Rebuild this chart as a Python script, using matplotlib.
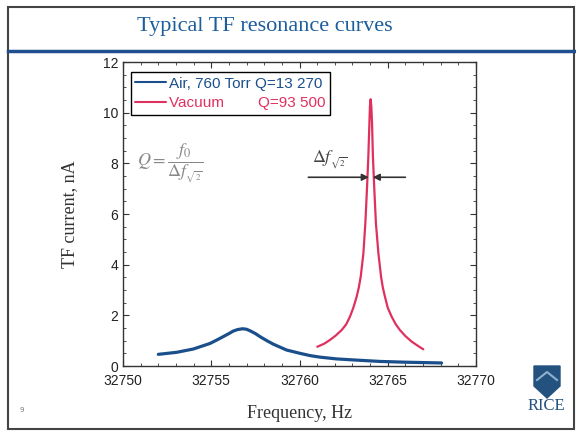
import matplotlib
matplotlib.use("Agg")
import matplotlib.pyplot as plt
from matplotlib.patches import Polygon, Rectangle
from matplotlib.lines import Line2D
from matplotlib.ticker import MultipleLocator

# air curve
air_f = [32752.0, 32753.04, 32753.98, 32754.93, 32755.3, 32755.68, 32756.0, 32756.25, 32756.5,
         32756.78, 32757.0, 32757.2, 32757.5, 32757.76, 32758.15, 32758.52, 32759.27, 32760.03,
         32760.6, 32761.16, 32762.1, 32763.05, 32764.56, 32766.0, 32768.05]
air_i = [0.46, 0.54, 0.67, 0.89, 1.02, 1.16, 1.28, 1.38, 1.44,
         1.47, 1.45, 1.39, 1.28, 1.16, 1.00, 0.86, 0.63, 0.50,
         0.41, 0.35, 0.28, 0.24, 0.18, 0.15, 0.12]

# vacuum curve
vac_f = [32761.01, 32761.4, 32761.73, 32762.05, 32762.39, 32762.65, 32762.86, 32763.05,
         32763.24, 32763.36, 32763.47, 32763.62, 32763.73, 32763.82, 32763.90, 32763.96,
         32763.99, 32764.03, 32764.07, 32764.11, 32764.16, 32764.24, 32764.33, 32764.47,
         32764.62, 32764.72, 32764.84, 32765.0, 32765.22, 32765.45, 32765.69, 32766.0,
         32766.36, 32766.7, 32767.01]
vac_i = [0.76, 0.88, 1.03, 1.20, 1.42, 1.65, 1.95, 2.30,
         2.74, 3.10, 3.53, 4.45, 5.63, 6.95, 8.26, 9.58,
         10.24, 10.53, 10.24, 9.58, 8.26, 6.95, 5.63, 4.45,
         3.53, 3.10, 2.74, 2.30, 1.95, 1.65, 1.42, 1.18,
         0.96, 0.80, 0.66]

air_label = "Air, 760 Torr Q=13 270"
vac_label = "Vacuum        Q=93 500"

blue = "#1b4f8c"
red = "#e0305e"

plt.rcParams["mathtext.fontset"] = "stix"

fig = plt.figure(figsize=(5.76, 4.33), dpi=100)

# slide frame
W, H = 576.0, 433.0
def fx(px):
    return px / W
def fy(py):
    return 1 - py / H

fig.add_artist(Rectangle((fx(8), fy(429)), fx(574) - fx(8), fy(7) - fy(429),
                         transform=fig.transFigure, fill=False, edgecolor="#444444", lw=1.5))
fig.add_artist(Line2D([fx(8), fx(576)], [fy(51), fy(51)], transform=fig.transFigure,
                      color="#1f4f8f", lw=2.5))
fig.text(0.46, fy(26), "Typical TF resonance curves", ha="center", va="center",
         fontsize=16, color="#1c5d9c", family="Liberation Serif")
fig.text(fx(22), fy(410), "9", fontsize=5, color="#777777", ha="center", va="center")

# RICE logo
shield = [(fx(534), fy(366)), (fx(560), fy(366)), (fx(560), fy(386)), (fx(547), fy(398)),
          (fx(534), fy(386))]
fig.add_artist(Polygon(shield, closed=True, transform=fig.transFigure, color="#24527f"))
fig.add_artist(Line2D([fx(537), fx(547), fx(557)], [fy(380), fy(372), fy(380)],
                      transform=fig.transFigure, color="#8fb0cf", lw=1.5))
fig.text(fx(546), fy(406), "RICE", ha="center", va="center", fontsize=12,
         color="#24527f", family="Liberation Serif")

ax = fig.add_axes([fx(123), fy(366), fx(476) - fx(123), fy(62) - fy(366)])
ax.plot(air_f, air_i, color=blue, lw=2.3, label=air_label, solid_capstyle="round",
        solid_joinstyle="round")
ax.plot(vac_f, vac_i, color=red, lw=1.6, label=vac_label, solid_capstyle="round",
        solid_joinstyle="round")

ax.set_xlim(32750, 32770)
ax.set_ylim(0, 12)
ax.xaxis.set_major_locator(MultipleLocator(5))
ax.xaxis.set_minor_locator(MultipleLocator(1))
ax.yaxis.set_major_locator(MultipleLocator(2))
ax.yaxis.set_minor_locator(MultipleLocator(0.5))
ax.tick_params(which="both", direction="in", top=True, right=True, colors="#333333",
               labelcolor="#222222", labelsize=10)
ax.tick_params(which="major", length=4)
ax.tick_params(which="minor", length=2)
ax.tick_params(axis="x", pad=6)
for lab in ax.get_xticklabels() + ax.get_yticklabels():
    lab.set_family("Liberation Sans")
for s in ax.spines.values():
    s.set_color("#333333")
    s.set_linewidth(1.0)

ax.set_xlabel("Frequency, Hz", fontsize=13, family="Liberation Serif", color="#333333",
              labelpad=12)
ax.set_ylabel("TF current, nA", fontsize=13, family="Liberation Serif", color="#333333",
              labelpad=18)

leg = ax.legend(loc="upper left", bbox_to_anchor=(0.022, 0.967), fancybox=False,
                edgecolor="black", framealpha=1, handlelength=2.0, handletextpad=0.2,
                labelspacing=0.35, borderpad=0.3, borderaxespad=0,
                prop={"family": "Liberation Sans", "size": 11})
leg.get_frame().set_linewidth(1.0)
for t, c in zip(leg.get_texts(), [blue, red]):
    t.set_color(c)
for ln in leg.get_lines():
    ln.set_linewidth(1.5)

ax.text(32750.8, 8.0, r"$Q=\dfrac{f_0}{\Delta f_{_{\sqrt{2}}}}$", fontsize=13,
        color="#888888", va="center", ha="left")
ax.text(32761.7, 8.15, r"$\Delta f_{_{\sqrt{2}}}$", fontsize=13, color="#444444",
        va="center", ha="center")

ax.annotate("", xy=(32763.93, 7.45), xytext=(32760.5, 7.45),
            arrowprops=dict(arrowstyle="-|>", color="#333333", lw=1.2, mutation_scale=10,
                            shrinkA=0, shrinkB=0))
ax.annotate("", xy=(32764.15, 7.45), xytext=(32766.0, 7.45),
            arrowprops=dict(arrowstyle="-|>", color="#333333", lw=1.2, mutation_scale=10,
                            shrinkA=0, shrinkB=0))

fig.savefig("out.png", dpi=100)
